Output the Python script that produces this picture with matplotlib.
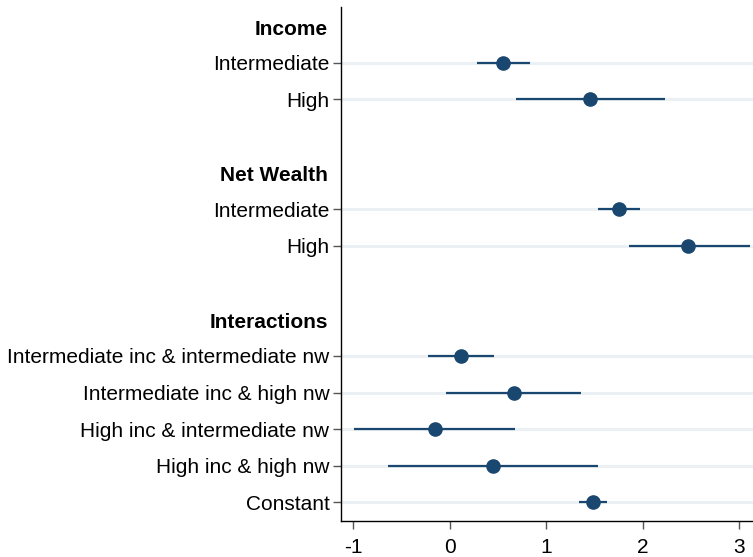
import matplotlib
matplotlib.use("Agg")
import matplotlib.pyplot as plt

plt.rcParams["font.family"] = ["Liberation Sans", "DejaVu Sans"]

# Coefficient estimates with 95% confidence intervals
groups = ["Income", "Net Wealth", "Interactions"]
income_labels = ["Intermediate", "High"]
income_coef = [0.556, 1.453]
income_lo = [0.287, 0.683]
income_hi = [0.832, 2.226]

wealth_labels = ["Intermediate", "High"]
wealth_coef = [1.753, 2.474]
wealth_lo = [1.536, 1.857]
wealth_hi = [1.974, 3.110]

inter_labels = ["Intermediate inc & intermediate nw",
                "Intermediate inc & high nw",
                "High inc & intermediate nw",
                "High inc & high nw",
                "Constant"]
inter_coef = [0.118, 0.663, -0.155, 0.445, 1.484]
inter_lo = [-0.228, -0.034, -0.986, -0.642, 1.335]
inter_hi = [0.455, 1.356, 0.673, 1.532, 1.629]

xticks = [-1, 0, 1, 2, 3]

navy = "#1a476f"
grid_c = "#eaf0f3"

# Lay out rows: heading, its items, then a blank row before the next group
rows = []  # (position, label, coef, lo, hi)
headings = []  # (position, text)
pos = 0
blocks = [
    (groups[0], income_labels, income_coef, income_lo, income_hi),
    (groups[1], wealth_labels, wealth_coef, wealth_lo, wealth_hi),
    (groups[2], inter_labels, inter_coef, inter_lo, inter_hi),
]
for i, (g, labs, c, lo, hi) in enumerate(blocks):
    headings.append((pos, g))
    pos += 1
    for lab, cc, l, h in zip(labs, c, lo, hi):
        rows.append((pos, lab, cc, l, h))
        pos += 1
    if i < len(blocks) - 1:
        pos += 1

fig = plt.figure(figsize=(7.53, 5.57), dpi=100)
ax = fig.add_axes([340.5 / 753, 1 - 521 / 557, 1 - 340.5 / 753, (521 - 7.3) / 557])

ys = [r[0] for r in rows]
for y in ys:
    ax.axhline(y, color=grid_c, lw=2.2, zorder=0)

for y, lab, c, lo, hi in rows:
    ax.plot([lo, hi], [y, y], color=navy, lw=1.6, solid_capstyle="butt", zorder=2)
    ax.plot([c], [y], "o", color=navy, ms=9.5, zorder=3)

ax.set_xlim(-1.13, 3.142)
ax.set_ylim(13.505, -0.51)
ax.set_yticks(ys)
ax.set_yticklabels([r[1] for r in rows], fontsize=15)
ax.set_xticks(xticks)
ax.set_xticklabels([str(t) for t in xticks], fontsize=15)

for y, g in headings:
    ax.text(-0.030, y + 0.03, g, transform=ax.get_yaxis_transform(), ha="right",
            va="center_baseline", fontsize=15, fontweight="bold")

for s in ["top", "right"]:
    ax.spines[s].set_visible(False)
for s in ["left", "bottom"]:
    ax.spines[s].set_linewidth(1.0)
    ax.spines[s].set_color("black")

ax.tick_params(axis="y", length=6, width=1, color="#555555", pad=2)
ax.tick_params(axis="x", length=6, width=1, color="#555555", pad=6)

fig.savefig("out.png", dpi=100)
